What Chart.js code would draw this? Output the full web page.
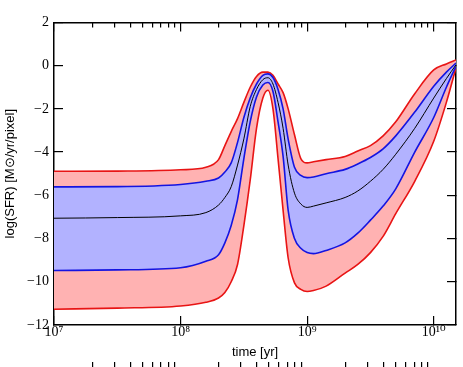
<!DOCTYPE html>
<html><head><meta charset="utf-8">
<script src="https://cdn.jsdelivr.net/npm/chart.js@4"></script>
<style>html,body{margin:0;padding:0;background:#fff}</style>
</head><body>
<canvas id="c" width="463" height="367"></canvas>
<script>
// log10(time / yr) sample positions
const logTime = [7.0, 7.5, 8.0, 8.2, 8.3, 8.35, 8.4, 8.45, 8.5, 8.55, 8.6, 8.65, 8.69, 8.73, 8.77, 8.81, 8.85, 8.9, 8.95, 9.0, 9.05, 9.15, 9.3, 9.4, 9.5, 9.6, 9.7, 9.85, 10.0, 10.1, 10.176];
// log(SFR) curves
const redUpper  = [-4.89,-4.88,-4.82,-4.7,-4.35,-3.7,-3.05,-2.45,-1.7,-1.0,-0.5,-0.3,-0.3,-0.45,-0.85,-1.25,-2.0,-3.2,-4.3,-4.5,-4.45,-4.35,-4.2,-3.95,-3.7,-3.25,-2.6,-1.3,-0.2,0.08,0.26];
const blueUpper = [-5.61,-5.6,-5.5,-5.35,-5.2,-4.92,-4.5,-3.55,-2.4,-1.5,-0.85,-0.45,-0.38,-0.55,-1.1,-2.0,-3.4,-4.7,-5.08,-5.18,-5.15,-5.0,-4.8,-4.55,-4.25,-3.85,-3.25,-2.15,-0.95,-0.3,0.12];
const median    = [-7.06,-7.03,-6.95,-6.8,-6.45,-6.1,-5.6,-4.6,-3.39,-1.9,-1.1,-0.65,-0.56,-0.85,-1.7,-2.9,-4.6,-5.9,-6.4,-6.56,-6.5,-6.35,-6.1,-5.8,-5.35,-4.8,-4.1,-2.9,-1.5,-0.6,0.04];
const blueLower = [-9.48,-9.45,-9.35,-9.05,-8.75,-8.2,-7.4,-6.2,-4.3,-2.6,-1.45,-0.9,-0.78,-1.2,-2.6,-4.2,-6.7,-8.0,-8.45,-8.65,-8.7,-8.55,-8.2,-7.75,-7.15,-6.5,-5.7,-4.0,-2.4,-1.0,-0.03];
const redLower  = [-11.27,-11.22,-11.12,-10.95,-10.75,-10.5,-10.0,-9.2,-7.4,-5.3,-2.9,-1.5,-1.14,-2.0,-4.3,-6.7,-8.9,-10.05,-10.35,-10.45,-10.4,-10.2,-9.6,-9.2,-8.65,-7.9,-6.85,-5.35,-3.5,-1.7,-0.1];
// axis ticks
const xTickExponents = [7, 8, 9, 10];
const xMinorMultipliers = [2, 3, 4, 5, 6, 7, 8, 9];
const yTickValues = [2, 0, -2, -4, -6, -8, -10, -12];

const SUP = {'0':'⁰','1':'¹','2':'²','3':'³','4':'⁴','5':'⁵','6':'⁶','7':'⁷','8':'⁸','9':'⁹'};
const supStr = n => String(n).split('').map(c => SUP[c]).join('');
const pts = arr => logTime.map((l, i) => ({x: Math.pow(10, l), y: arr[i]}));
const xMin = 1e7, xMax = Math.pow(10, 10.176);

const RED = 'rgb(232,20,20)', BLUE = 'rgb(20,20,225)';
const RED_FILL = 'rgb(255,178,178)', BLUE_FILL = 'rgb(178,178,255)';
const SERIF = "'Liberation Serif', 'DejaVu Serif', serif";
const SANS = "'Liberation Sans', Arial, sans-serif";

const xMajorList = xTickExponents.map(e => Math.pow(10, e)).filter(v => v >= xMin && v <= xMax);
const xMinorList = [];
xTickExponents.forEach(e => xMinorMultipliers.forEach(m => {
  const v = m * Math.pow(10, e);
  if (v >= xMin && v <= xMax) xMinorList.push(v);
}));

const innerGrid = len => ({display: true, drawOnChartArea: false, drawTicks: true, tickLength: -len, color: '#000', lineWidth: 1.2});
const frameBorder = {display: true, color: '#000', width: 1.5};
const noBorder = {display: false};
const blank = () => '';

// helper axes (zero size) that only carry inward tick marks
const helperX = (pos, list, len, border) => ({
  type: 'logarithmic', position: pos, min: xMin, max: xMax,
  grid: innerGrid(len), border: border,
  afterBuildTicks: s => { s.ticks = list.map(v => ({value: v})); },
  afterFit: s => { s.height = 0; },
  ticks: {autoSkip: false, maxRotation: 0, callback: blank, font: {size: 1}}
});

const chart = new Chart(document.getElementById('c'), {
  type: 'line',
  data: {
    datasets: [
      {data: pts(blueUpper), borderColor: BLUE, borderWidth: 1.6, backgroundColor: BLUE_FILL, fill: 1},
      {data: pts(blueLower), borderColor: BLUE, borderWidth: 1.6, fill: false},
      {data: pts(redUpper), borderColor: RED, borderWidth: 1.6, backgroundColor: RED_FILL, fill: 3},
      {data: pts(redLower), borderColor: RED, borderWidth: 1.6, fill: false},
      {data: pts(median), borderColor: '#000', borderWidth: 1, fill: false, order: -1}
    ]
  },
  options: {
    responsive: false,
    animation: false,
    devicePixelRatio: 1,
    elements: {point: {radius: 0}, line: {cubicInterpolationMode: 'monotone'}},
    layout: {padding: {left: 0, top: 13, right: 7, bottom: 0}},
    plugins: {legend: {display: false}, tooltip: {enabled: false}, filler: {drawTime: 'beforeDatasetsDraw'}},
    scales: {
      x: {
        type: 'logarithmic', position: 'bottom', min: xMin, max: xMax,
        grid: innerGrid(9), border: frameBorder,
        afterBuildTicks: s => { s.ticks = xMajorList.map(v => ({value: v})); },
        afterFit: s => { s.height = 42; },
        ticks: {
          autoSkip: false, maxRotation: 0, padding: 8, color: '#000',
          font: {family: SERIF, size: 14},
          callback: v => '10' + supStr(Math.round(Math.log10(v)))
        },
        title: {display: true, text: 'time [yr]', color: '#000', font: {family: SANS, size: 13}, padding: {top: 0, bottom: 7}}
      },
      xMinor: helperX('bottom', xMinorList, 5, noBorder),
      x2: helperX('top', xMajorList, 9, frameBorder),
      x2Minor: helperX('top', xMinorList, 5, noBorder),
      y: {
        position: 'left', min: -12, max: 2,
        grid: innerGrid(9), border: frameBorder,
        afterBuildTicks: s => { s.ticks = yTickValues.map(v => ({value: v})); },
        afterFit: s => { s.width = 54; },
        ticks: {
          padding: 14, color: '#000',
          font: {family: SERIF, size: 14},
          callback: v => v < 0 ? '\u2212' + Math.abs(v) : String(v)
        },
        title: {display: true, text: 'log(SFR) [M\u2299/yr/pixel]', color: '#000', font: {family: SANS, size: 13}, padding: {top: 3, bottom: 0}}
      },
      y2: {
        position: 'right', min: -12, max: 2,
        grid: innerGrid(9), border: frameBorder,
        afterBuildTicks: s => { s.ticks = yTickValues.map(v => ({value: v})); },
        afterFit: s => { s.width = 0; },
        ticks: {callback: blank, font: {size: 1}}
      }
    }
  }
});

// nudge layout padding so the plot area lands where the reference has it
const targetArea = {top: 13.3, right: 456, bottom: 325};
for (let i = 0; i < 3; i++) {
  const a = chart.chartArea;
  const p = Object.assign({}, chart.options.layout.padding);
  const dt = a.top - targetArea.top, dr = a.right - targetArea.right, db = a.bottom - targetArea.bottom;
  if (Math.abs(dt) < 0.5 && Math.abs(dr) < 0.5 && Math.abs(db) < 0.5) break;
  chart.options.layout.padding = {left: p.left || 0, top: (p.top || 0) - dt, right: (p.right || 0) + dr, bottom: (p.bottom || 0) + db};
  chart.update();
}
</script>
</body></html>
